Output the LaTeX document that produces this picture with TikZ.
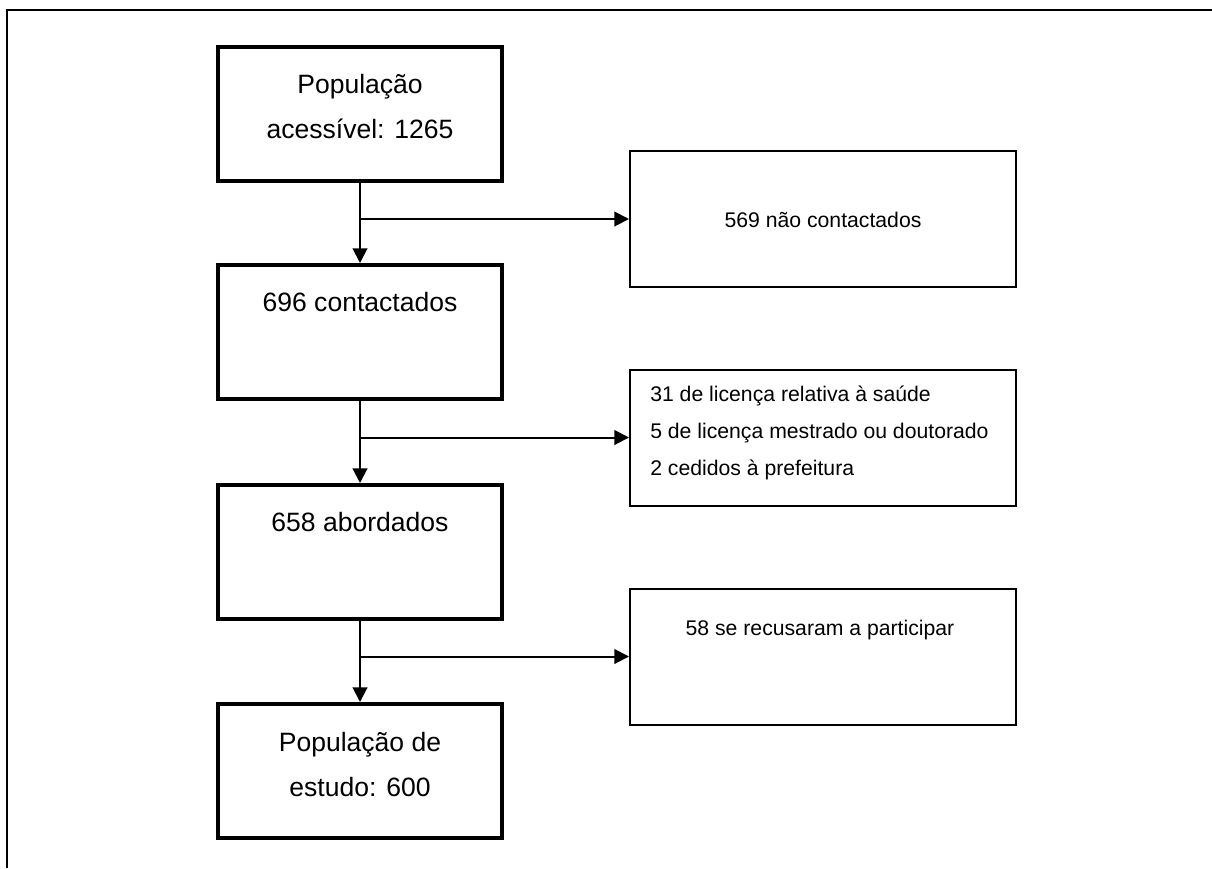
\documentclass[tikz,border=0pt]{standalone}
\usepackage{fontspec}
\setmainfont{Liberation Sans}
\usetikzlibrary{arrows.meta}
\tikzset{
  mainbox/.style={draw=black, line width=3pt, minimum width=213pt, minimum height=100.5pt, inner sep=0pt},
  sidebox/.style={draw=black, line width=1.5pt, minimum width=289.5pt, minimum height=102pt, inner sep=0pt},
  conn/.style={draw=black, line width=1.5pt, -{Triangle[length=11pt,width=11pt]}},
  plain/.style={draw=black, line width=1.5pt},
  maintxt/.style={anchor=base, inner sep=0pt, font=\fontsize{19.9}{24}\selectfont},
  sidetxt/.style={anchor=base, inner sep=0pt, font=\fontsize{15.9}{19}\selectfont},
  sidetxtl/.style={anchor=base west, inner sep=0pt, font=\fontsize{15.9}{19}\selectfont}
}
\begin{document}
\begin{tikzpicture}[x=0.75pt, y=-0.75pt]
\useasboundingbox (0,0) rectangle (1212,868);
% frame
\draw[plain] (7,868) -- (7,9.5) -- (1212,9.5);
% main boxes
\node[mainbox] (b1) at (360,114) {};
\node[mainbox] (b2) at (360,332) {};
\node[mainbox] (b3) at (360,552) {};
\node[mainbox] (b4) at (360,771) {};
% side boxes
\node[sidebox] (s1) at (823,219) {};
\node[sidebox] (s2) at (823,437.5) {};
\node[sidebox] (s3) at (823,656.5) {};
% texts
\node[maintxt] (t1a) at (360,93) {População};
\node[maintxt] (t1b) at (360,138) {acessível: 1265};
\node[maintxt] (t2) at (360,311) {696 contactados};
\node[maintxt] (t3) at (360,531) {658 abordados};
\node[maintxt] (t4a) at (360,751) {População de};
\node[maintxt] (t4b) at (360,796) {estudo: 600};
\node[sidetxt] (u1) at (823,227) {569 não contactados};
\node[sidetxtl] (u2a) at (650,401) {31 de licença relativa à saúde};
\node[sidetxtl] (u2b) at (650,438) {5 de licença mestrado ou doutorado};
\node[sidetxtl] (u2c) at (650,475) {2 cedidos à prefeitura};
\node[sidetxt] (u3) at (820,635) {58 se recusaram a participar};
% junctions
\coordinate (j1) at (360,219);
\coordinate (j2) at (360,437.5);
\coordinate (j3) at (360,656.5);
% connectors
\draw[conn] (b1.south) -- (b2.north);
\draw[conn] (b2.south) -- (b3.north);
\draw[conn] (b3.south) -- (b4.north);
\draw[conn] (j1) -- (s1.west);
\draw[conn] (j2) -- (s2.west);
\draw[conn] (j3) -- (s3.west);
\end{tikzpicture}
\end{document}
